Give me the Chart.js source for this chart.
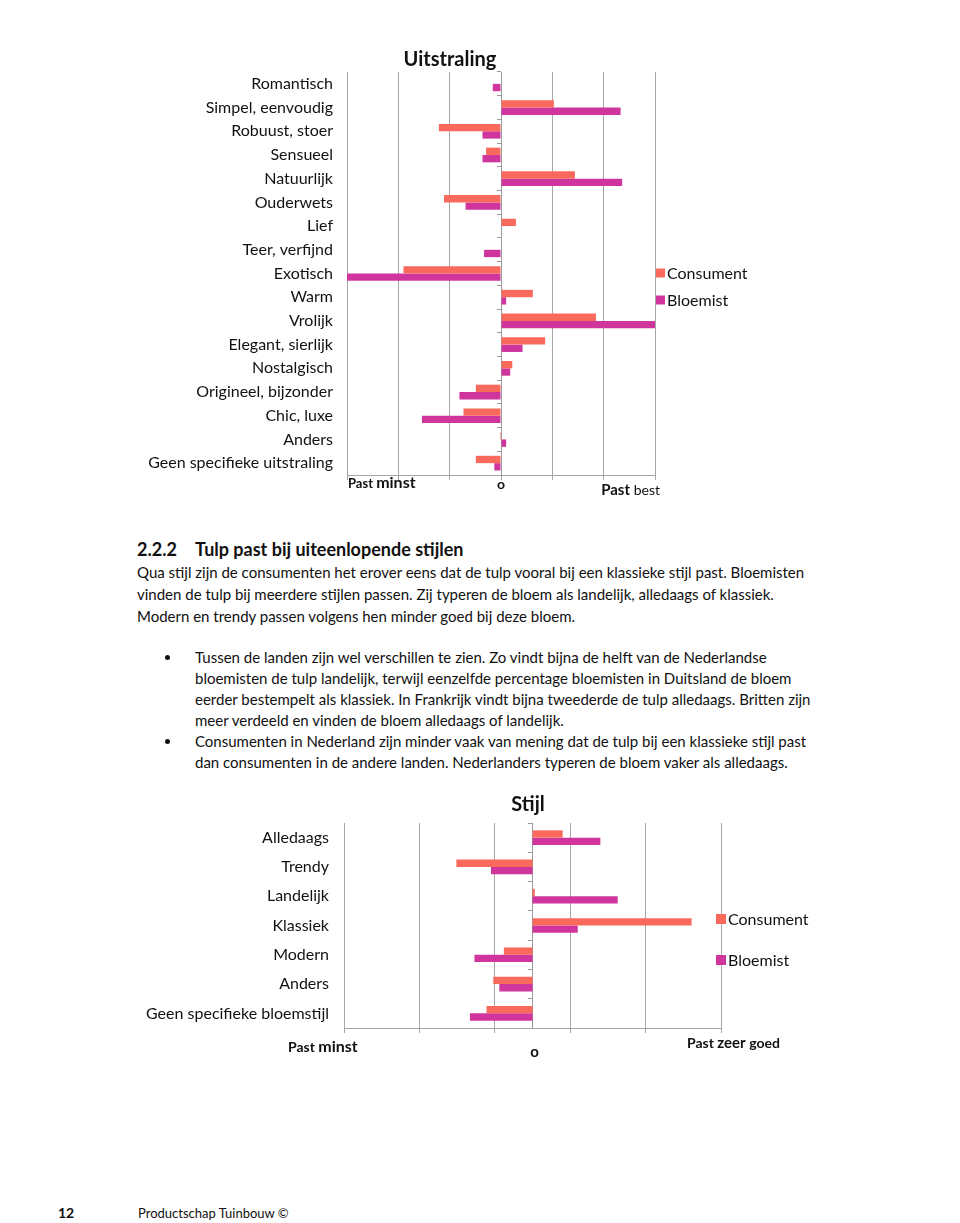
<!DOCTYPE html>
<html>
<head>
<meta charset="utf-8">
<script src="https://cdn.jsdelivr.net/npm/chart.js@4/dist/chart.umd.min.js"></script>
<style>
  html, body { margin: 0; padding: 0; background: #fff; }
  body { width: 960px; height: 1223px; position: relative; overflow: hidden; font-family: Lato, sans-serif; color: #111; }
  .box { position: absolute; }
  .ln { position: absolute; white-space: nowrap; font-size: 15px; line-height: 22px; height: 22px; }
  .h { font-weight: bold; font-size: 18px; }
  .dot { position: absolute; width: 5px; height: 5px; border-radius: 50%; background: #111; }
</style>
</head>
<body>

<div class="box" style="left:140px; top:45px; width:620px; height:460px;"><canvas id="uitstraling-chart"></canvas></div>

<div class="ln h" style="left:137px; top:538px;">2.2.2</div>
<div class="ln h" style="left:195px; top:538px;">Tulp past bij uiteenlopende stijlen</div>
<div class="ln" style="left:137px; top:561px;">Qua stijl zijn de consumenten het erover eens dat de tulp vooral bij een klassieke stijl past. Bloemisten</div>
<div class="ln" style="left:137px; top:583px;">vinden de tulp bij meerdere stijlen passen. Zij typeren de bloem als landelijk, alledaags of klassiek.</div>
<div class="ln" style="left:137px; top:605px;">Modern en trendy passen volgens hen minder goed bij deze bloem.</div>

<div class="dot" style="left:165px; top:655px;"></div>
<div class="ln" style="left:195px; top:646px;">Tussen de landen zijn wel verschillen te zien. Zo vindt bijna de helft van de Nederlandse</div>
<div class="ln" style="left:195px; top:667px;">bloemisten de tulp landelijk, terwijl eenzelfde percentage bloemisten in Duitsland de bloem</div>
<div class="ln" style="left:195px; top:688px;">eerder bestempelt als klassiek. In Frankrijk vindt bijna tweederde de tulp alledaags. Britten zijn</div>
<div class="ln" style="left:195px; top:709px;">meer verdeeld en vinden de bloem alledaags of landelijk.</div>
<div class="dot" style="left:165px; top:739px;"></div>
<div class="ln" style="left:195px; top:730px;">Consumenten in Nederland zijn minder vaak van mening dat de tulp bij een klassieke stijl past</div>
<div class="ln" style="left:195px; top:751px;">dan consumenten in de andere landen. Nederlanders typeren de bloem vaker als alledaags.</div>

<div class="box" style="left:140px; top:788px; width:776px; height:280px;"><canvas id="stijl-chart"></canvas></div>

<div class="ln" style="left:58px; top:1202px; font-size:14px; font-weight:bold;">12</div>
<div class="ln" style="left:138px; top:1202px; font-size:13px;">Productschap Tuinbouw ©</div>

<script>
// colours
var consumentColor = '#f96a5d';
var bloemistColor = '#cf359c';
var gridColor = '#a6a6a6';

// Uitstraling (one unit = one gridline)
var uitstralingLabels = ['Romantisch', 'Simpel, eenvoudig', 'Robuust, stoer', 'Sensueel', 'Natuurlijk',
  'Ouderwets', 'Lief', 'Teer, verfijnd', 'Exotisch', 'Warm', 'Vrolijk', 'Elegant, sierlijk',
  'Nostalgisch', 'Origineel, bijzonder', 'Chic, luxe', 'Anders', 'Geen specifieke uitstraling'];
var uitstralingConsument = [0, 1.03, -1.21, -0.29, 1.44, -1.11, 0.29, 0, -1.90, 0.62, 1.85, 0.86, 0.22, -0.49, -0.73, -0.02, -0.49];
var uitstralingBloemist = [-0.16, 2.33, -0.36, -0.36, 2.36, -0.69, 0, -0.33, -3.0, 0.10, 3.0, 0.42, 0.18, -0.81, -1.54, 0.10, -0.13];

// Stijl
var stijlLabels = ['Alledaags', 'Trendy', 'Landelijk', 'Klassiek', 'Modern', 'Anders', 'Geen specifieke bloemstijl'];
var stijlConsument = [0.40, -1.01, 0.03, 2.11, -0.38, -0.52, -0.61];
var stijlBloemist = [0.90, -0.55, 1.13, 0.60, -0.77, -0.44, -0.83];
var stijlTicks = [-2.5, -1.5, -0.5, 0.5, 1.5, 2.5];

var seriesNames = ['Consument', 'Bloemist'];

// text under the value axis, drawn from the x scale
var axisText = {
  id: 'axisText',
  afterDraw: function(chart, args, opts) {
    var ctx = chart.ctx, x = chart.scales.x;
    ctx.save();
    ctx.fillStyle = '#111';
    ctx.textBaseline = 'alphabetic';
    opts.items.forEach(function(it) {
      var widths = it.runs.map(function(r) { ctx.font = r.font; return ctx.measureText(r.text).width; });
      var total = widths.reduce(function(a, b) { return a + b; }, 0);
      var px = x.getPixelForValue(it.value) + (it.dx || 0);
      if (it.align === 'center') px -= total / 2;
      if (it.align === 'right') px -= total;
      var py = chart.chartArea.bottom + it.dy;
      it.runs.forEach(function(r, i) {
        ctx.font = r.font;
        ctx.fillText(r.text, px, py);
        px += widths[i];
      });
    });
    ctx.restore();
  }
};

// legend beside the plot
var sideLegend = {
  id: 'sideLegend',
  afterDraw: function(chart, args, opts) {
    var ctx = chart.ctx;
    ctx.save();
    ctx.font = opts.font;
    ctx.textBaseline = 'middle';
    chart.data.datasets.forEach(function(ds, i) {
      var x = chart.chartArea.right + opts.dx;
      var y = opts.ys[i];
      ctx.fillStyle = ds.backgroundColor;
      ctx.fillRect(x, y - opts.box / 2, opts.box, opts.box);
      ctx.fillStyle = '#111';
      ctx.fillText(ds.label, x + opts.box + 2, y + 1);
    });
    ctx.restore();
  }
};

function makeOptions(cfg) {
  return {
    indexAxis: 'y',
    responsive: true,
    maintainAspectRatio: false,
    animation: false,
    plugins: {
      legend: { display: false },
      tooltip: { enabled: false },
      title: {
        display: true,
        text: cfg.title,
        color: '#111',
        font: { family: 'Lato', size: cfg.titleSize, weight: 'bold' },
        padding: cfg.titlePadding
      },
      axisText: { items: cfg.axisItems },
      sideLegend: cfg.legend
    },
    scales: {
      x: {
        min: cfg.min,
        max: cfg.max,
        ticks: { display: false, stepSize: 1 },
        afterBuildTicks: cfg.ticks ? function(scale) {
          scale.ticks = cfg.ticks.map(function(v) { return { value: v }; });
        } : undefined,
        afterFit: function(scale) { scale.height = cfg.xHeight; },
        grid: { color: gridColor, tickLength: 5, lineWidth: 1 },
        border: { color: gridColor }
      },
      y: {
        afterFit: function(scale) { scale.width = cfg.yWidth; },
        grid: { display: false, drawTicks: false },
        border: { display: false },
        ticks: {
          color: '#111',
          padding: cfg.labelPad,
          font: { family: 'Lato', size: cfg.labelSize }
        }
      },
      // short marks along the zero line
      y2: {
        type: 'category',
        position: { x: 0 },
        offset: true,
        ticks: { display: false },
        grid: { offset: true, drawOnChartArea: false, tickLength: 4, color: '#999' },
        border: { color: '#999' }
      },
      // empty room on the right for the legend
      legendRoom: {
        type: 'linear',
        position: 'right',
        afterFit: function(scale) { scale.width = cfg.padRight; },
        ticks: { display: false },
        grid: { display: false },
        border: { display: false }
      }
    }
  };
}

var uitstralingChart = new Chart(document.getElementById('uitstraling-chart').getContext('2d'), {
  type: 'bar',
  data: {
    labels: uitstralingLabels,
    datasets: [
      { label: seriesNames[0], data: uitstralingConsument, backgroundColor: consumentColor, categoryPercentage: 0.62, barPercentage: 1 },
      { label: seriesNames[1], data: uitstralingBloemist, backgroundColor: bloemistColor, categoryPercentage: 0.62, barPercentage: 1 }
    ]
  },
  options: makeOptions({
    title: 'Uitstraling', titleSize: 20, titlePadding: { top: 3, bottom: 0 },
    min: -3, max: 3, padRight: 105, yWidth: 207, xHeight: 30, labelPad: 14, labelSize: 16,
    legend: { dx: 1, ys: [228, 255], box: 9, font: '16px Lato' },
    axisItems: [
      { value: -3, align: 'left', dx: 1, dy: 13, runs: [{ text: 'Past ', font: 'bold 13px Lato' }, { text: 'minst', font: 'bold 16px Lato' }] },
      { value: 0, align: 'center', dx: 0, dy: 14, runs: [{ text: 'o', font: 'bold 14px Lato' }] },
      { value: 3, align: 'right', dx: 5, dy: 20, runs: [{ text: 'Past ', font: 'bold 15px Lato' }, { text: 'best', font: '14px Lato' }] }
    ]
  }),
  plugins: [axisText, sideLegend]
});

var stijlChart = new Chart(document.getElementById('stijl-chart').getContext('2d'), {
  type: 'bar',
  data: {
    labels: stijlLabels,
    datasets: [
      { label: seriesNames[0], data: stijlConsument, backgroundColor: consumentColor, categoryPercentage: 0.5, barPercentage: 1 },
      { label: seriesNames[1], data: stijlBloemist, backgroundColor: bloemistColor, categoryPercentage: 0.5, barPercentage: 1 }
    ]
  },
  options: makeOptions({
    title: 'Stijl', titleSize: 20, titlePadding: { top: 5, bottom: 6 },
    min: -2.5, max: 2.5, ticks: stijlTicks, padRight: 195, yWidth: 204, xHeight: 40, labelPad: 15, labelSize: 16,
    legend: { dx: -5, ys: [131, 172], box: 10, font: '16px Lato' },
    axisItems: [
      { value: -2.5, align: 'left', dx: -56, dy: 24, runs: [{ text: 'Past ', font: 'bold 14px Lato' }, { text: 'minst', font: 'bold 16px Lato' }] },
      { value: 0, align: 'center', dx: 2, dy: 29, runs: [{ text: 'o', font: 'bold 15px Lato' }] },
      { value: 2.5, align: 'right', dx: 59, dy: 20, runs: [{ text: 'Past ', font: 'bold 14px Lato' }, { text: 'zeer ', font: 'bold 15px Lato' }, { text: 'goed', font: 'bold 14px Lato' }] }
    ]
  }),
  plugins: [axisText, sideLegend]
});
</script>
</body>
</html>
